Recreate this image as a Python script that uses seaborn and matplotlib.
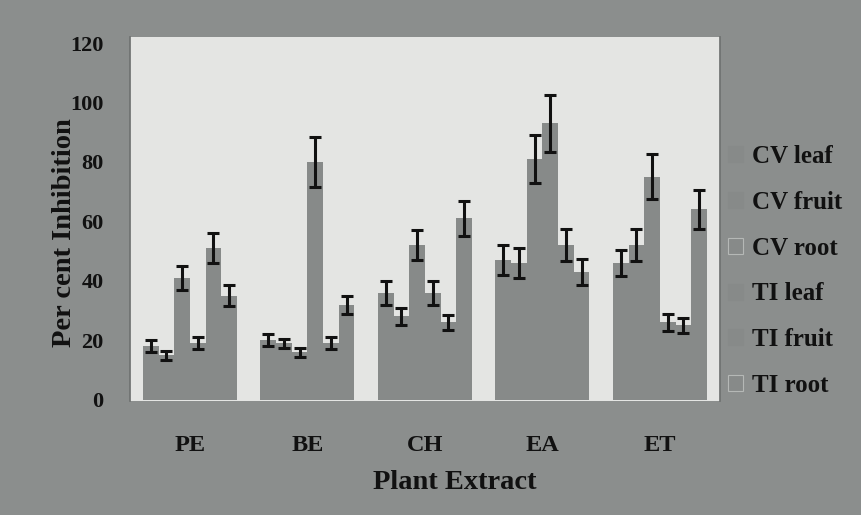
import numpy as np
import pandas as pd
import matplotlib
matplotlib.use("Agg")
import matplotlib.pyplot as plt
import seaborn as sns
from matplotlib.patches import Patch

extracts = ["PE", "BE", "CH", "EA", "ET"]
series = ["CV leaf", "CV fruit", "CV root", "TI leaf", "TI fruit", "TI root"]
# values per series across extracts (PE, BE, CH, EA, ET)
cv_leaf = [18, 20, 36, 47, 46]
cv_fruit = [15, 19, 28, 46, 52]
cv_root = [41, 16, 52, 81, 75]
ti_leaf = [19, 80, 36, 93, 26]
ti_fruit = [51, 19, 26, 52, 25]
ti_root = [35, 32, 61, 43, 64]
cv_leaf_err = [2, 2, 4, 5, 4.5]
cv_fruit_err = [1.5, 1.5, 3, 5, 5.5]
cv_root_err = [4, 1.5, 5, 8, 7.5]
ti_leaf_err = [2, 8.5, 4, 9.5, 3]
ti_fruit_err = [5, 2, 2.5, 5.5, 2.5]
ti_root_err = [3.5, 3, 6, 4.5, 6.5]
y_ticks = [0, 20, 40, 60, 80, 100, 120]

vals = [cv_leaf, cv_fruit, cv_root, ti_leaf, ti_fruit, ti_root]
errs = [cv_leaf_err, cv_fruit_err, cv_root_err, ti_leaf_err, ti_fruit_err, ti_root_err]

rows = []
for s, v, e in zip(series, vals, errs):
    for x, vv, ee in zip(extracts, v, e):
        rows.append({"Extract": x, "Series": s, "Value": vv, "Err": ee})
df = pd.DataFrame(rows)

sns.set_theme(style="white")
plt.rcParams['font.family'] = ['Liberation Serif', 'DejaVu Serif']
plt.rcParams['font.weight'] = 'bold'

fig_bg = "#8b8e8d"
ax_bg = "#e4e5e3"
bar_c = "#878a89"
txt_c = "#111111"

fig = plt.figure(figsize=(8.61, 5.15), dpi=100, facecolor=fig_bg)
ax = fig.add_axes([0.151, 0.221, 0.685, 0.707])
ax.set_facecolor(ax_bg)

pal = {s: bar_c for s in series}
sns.barplot(data=df, x="Extract", y="Value", hue="Series", order=extracts,
            hue_order=series, palette=pal, width=0.8, saturation=1,
            errorbar=None, ax=ax, legend=False, linewidth=0)

for cont, s in zip(ax.containers, series):
    sub = df[df["Series"] == s].set_index("Extract").loc[extracts]
    xs = [p.get_x() + p.get_width() / 2 for p in cont.patches]
    hs = [p.get_height() for p in cont.patches]
    ax.errorbar(xs, hs, yerr=sub["Err"].values, fmt="none", ecolor=txt_c,
                elinewidth=2.2, capsize=4.5, capthick=2.2)

ax.set_xlim(-0.51, 4.51)
ax.set_ylim(-0.5, 122)
ax.set_yticks(y_ticks)
ax.set_yticklabels([str(t) for t in y_ticks], fontsize=16, fontweight='bold', color=txt_c)
ax.set_xticks(range(len(extracts)))
ax.set_xticklabels(extracts, fontsize=17.5, fontweight='bold', color=txt_c)
ax.tick_params(axis='y', length=0, pad=19)
ax.tick_params(axis='x', length=0, pad=24)
ax.set_xlabel("Plant Extract", fontsize=20.5, fontweight='bold', color=txt_c)
ax.xaxis.set_label_coords(0.551, -0.189)
ax.set_ylabel("Per cent Inhibition", fontsize=20.5, fontweight='bold', color=txt_c)
ax.yaxis.set_label_coords(-0.09, 0.462)
for sp in ax.spines.values():
    sp.set_visible(False)
ax.spines['left'].set_visible(True)
ax.spines['right'].set_visible(True)
ax.spines['left'].set_color("#6f7271")
ax.spines['right'].set_color("#6f7271")
ax.grid(False)

handles = []
for i, s in enumerate(series):
    ec = "#b5b8b6" if s in ("CV root", "TI root") else bar_c
    handles.append(Patch(facecolor=bar_c, edgecolor=ec, linewidth=0.8))
leg = fig.legend(handles, series, loc="upper left", bbox_to_anchor=(0.846, 0.718),
                 frameon=False, fontsize=18, handlelength=0.6, handleheight=0.6,
                 handletextpad=0.35, labelspacing=0.91, borderaxespad=0, borderpad=0)
for t in leg.get_texts():
    t.set_fontweight('bold')
    t.set_color(txt_c)

fig.savefig("out.png", dpi=100, facecolor=fig_bg)
